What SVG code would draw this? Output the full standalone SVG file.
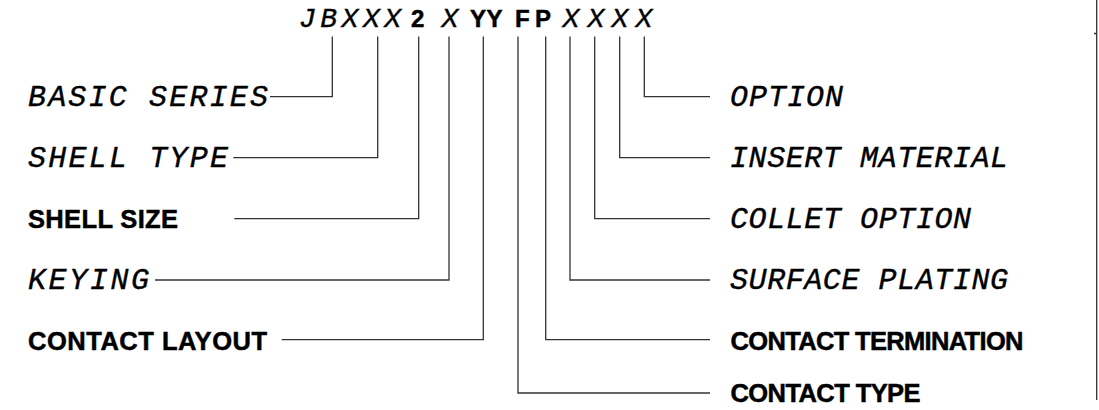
<svg xmlns="http://www.w3.org/2000/svg" width="1099" height="410" viewBox="0 0 1099 410">
<style>
.it{font-family:"Liberation Mono","DejaVu Sans Mono",monospace;font-style:italic;font-size:30px;fill:#000;stroke:#000;stroke-width:0.4}
.bd{font-family:"Liberation Sans",Arial,sans-serif;font-weight:bold;font-size:25.5px;fill:#000;stroke:#000;stroke-width:0.5}
.tit{font-family:"Liberation Mono","DejaVu Sans Mono",monospace;font-style:italic;font-size:28px;fill:#000;stroke:#000;stroke-width:0.4}
.tbd{font-family:"Liberation Sans",Arial,sans-serif;font-weight:bold;font-size:24px;fill:#000;stroke:#000;stroke-width:0.5}
.ln{fill:none;stroke:#333;stroke-width:1.3}
</style>
<rect width="1099" height="410" fill="#fff"/>
<g id="code">
<text class="tit" x="299" y="27" textLength="102" lengthAdjust="spacing">JBXXX</text>
<text class="tbd" x="411" y="27">2</text>
<text class="tit" x="450" y="27" text-anchor="middle">X</text>
<text class="tbd" x="470" y="27" letter-spacing="0.5">YY</text>
<text class="tbd" x="515" y="27">F</text>
<text class="tbd" x="535" y="27">P</text>
<text class="tit" x="571" y="27" text-anchor="middle">X</text>
<text class="tit" x="596" y="27" text-anchor="middle">X</text>
<text class="tit" x="620" y="27" text-anchor="middle">X</text>
<text class="tit" x="644" y="27" text-anchor="middle">X</text>
</g>
<g id="connectors">
<path class="ln" d="M332.3,36.5V96.7H270"/>
<path class="ln" d="M377.7,36.5V157.7H233.3"/>
<path class="ln" d="M418.7,36.5V218.7H234.3"/>
<path class="ln" d="M449,36.5V280H155"/>
<path class="ln" d="M483.3,36.5V339.7H281.7"/>
<path class="ln" d="M518,36.5V393H710"/>
<path class="ln" d="M545.7,36.5V339.7H710"/>
<path class="ln" d="M570,36.5V280H710"/>
<path class="ln" d="M594.7,36.5V218.7H710"/>
<path class="ln" d="M619.7,36.5V157.7H710"/>
<path class="ln" d="M644.3,36.5V96.7H710"/>
</g>
<g id="basic-series"><text class="it" x="28" y="105.7" textLength="240" lengthAdjust="spacing">BASIC SERIES</text></g>
<g id="shell-type"><text class="it" x="28" y="166.7" textLength="200" lengthAdjust="spacing">SHELL TYPE</text></g>
<g id="shell-size"><text class="bd" x="28" y="228.3" textLength="150" lengthAdjust="spacing">SHELL SIZE</text></g>
<g id="keying"><text class="it" x="28" y="289" textLength="121" lengthAdjust="spacing">KEYING</text></g>
<g id="contact-layout"><text class="bd" x="28" y="350" textLength="239" lengthAdjust="spacing">CONTACT LAYOUT</text></g>
<g id="option"><text class="it" x="730" y="105.7" textLength="113" lengthAdjust="spacing">OPTION</text></g>
<g id="insert-material"><text class="it" x="730" y="166.7" textLength="278" lengthAdjust="spacing">INSERT MATERIAL</text></g>
<g id="collet-option"><text class="it" x="730" y="227.7" textLength="241" lengthAdjust="spacing">COLLET OPTION</text></g>
<g id="surface-plating"><text class="it" x="730" y="289" textLength="278" lengthAdjust="spacing">SURFACE PLATING</text></g>
<g id="contact-termination"><text class="bd" x="730.5" y="350" textLength="293" lengthAdjust="spacing">CONTACT TERMINATION</text></g>
<g id="contact-type"><text class="bd" x="730.5" y="402" textLength="190" lengthAdjust="spacing">CONTACT TYPE</text></g>
<g id="frame">
<path class="ln" d="M1096.7,0V400M1094,33.5H1097"/>
</g>
</svg>
